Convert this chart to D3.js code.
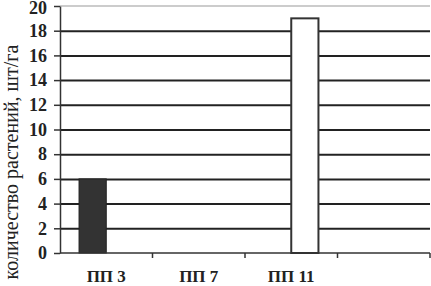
<!DOCTYPE html>
<html>
<head>
<meta charset="utf-8">
<script src="https://cdn.jsdelivr.net/npm/d3@7"></script>
<style>
  body { margin: 0; background: #fff; }
  text { font-family: "Liberation Serif", "Times New Roman", serif; }
  .grid line { stroke: #222; stroke-width: 2; }
  .grid .domain { display: none; }
  .axis .domain, .axis line { stroke: #333; stroke-width: 1.5; }
  .axis text { font-size: 18px; font-weight: bold; fill: #222; }
  .axis text.cat { font-size: 17px; }
</style>
</head>
<body>
<div class="chart"></div>
<script>
var categories = ["ПП 3", "ПП 7", "ПП 11", ""];
var seriesDark = [6, 0, 0, 0];
var seriesLight = [0, 0, 19, 0];
var yTicks = [0, 2, 4, 6, 8, 10, 12, 14, 16, 18, 20];
var yLabel = "количество растений, шт/га";

var margin = { top: 6, right: 1, bottom: 33, left: 60 };
var width = 431 - margin.left - margin.right;
var height = 286 - margin.top - margin.bottom;

var svg = d3
  .select(".chart")
  .append("svg")
  .attr("width", 431)
  .attr("height", 286);

var chart = svg
  .append("g")
  .attr("transform", `translate(${margin.left},${margin.top})`);

var xScale = d3.scaleBand().domain(categories).range([0, width]);
var yScale = d3.scaleLinear().domain([0, 20]).range([height, 0]);
var subScale = d3
  .scaleBand()
  .domain(["dark", "light"])
  .range([0, xScale.bandwidth()])
  .paddingOuter(0.7)
  .paddingInner(0);

// top border of the plot area
chart
  .append("line")
  .attr("x1", 0)
  .attr("x2", width)
  .attr("y1", yScale(20))
  .attr("y2", yScale(20))
  .attr("stroke", "#bbb")
  .attr("stroke-width", 1.5);

// gridlines
chart
  .append("g")
  .attr("class", "grid")
  .call(
    d3.axisLeft(yScale)
      .tickValues(yTicks.filter(d => d > 0 && d < 20))
      .tickSize(-width)
      .tickFormat("")
  );

var rows = categories.map((c, i) => ({
  cat: c,
  dark: seriesDark[i],
  light: seriesLight[i]
}));

chart
  .selectAll(".bar-dark")
  .data(rows.filter(d => d.dark > 0))
  .enter()
  .append("rect")
  .attr("class", "bar-dark")
  .attr("x", d => xScale(d.cat) + subScale("dark"))
  .attr("y", d => yScale(d.dark))
  .attr("width", subScale.bandwidth())
  .attr("height", d => yScale(0) - yScale(d.dark))
  .attr("fill", "#333")
  .attr("stroke", "#222")
  .attr("stroke-width", 1);

chart
  .selectAll(".bar-light")
  .data(rows.filter(d => d.light > 0))
  .enter()
  .append("rect")
  .attr("class", "bar-light")
  .attr("x", d => xScale(d.cat) + subScale("light"))
  .attr("y", d => yScale(d.light))
  .attr("width", subScale.bandwidth())
  .attr("height", d => yScale(0) - yScale(d.light))
  .attr("fill", "#fff")
  .attr("stroke", "#333")
  .attr("stroke-width", 2);

// y axis
var yAxisG = chart
  .append("g")
  .attr("class", "axis y")
  .call(d3.axisLeft(yScale).tickValues(yTicks).tickSize(6).tickPadding(7).tickSizeOuter(0));
// keep the top label inside the picture
yAxisG.selectAll(".tick text").filter(d => d === 20).attr("dy", "0.4em");

// x axis: ticks on band edges, labels on band centres
var edges = categories.map(c => xScale(c)).concat([width]);
var xAxisG = chart
  .append("g")
  .attr("class", "axis x")
  .attr("transform", `translate(0,${height})`);
xAxisG
  .append("line")
  .attr("class", "domain")
  .attr("x1", 0)
  .attr("x2", width);
xAxisG
  .selectAll(".edge")
  .data(edges.slice(1))
  .enter()
  .append("line")
  .attr("class", "edge")
  .attr("x1", d => d)
  .attr("x2", d => d)
  .attr("y1", 0)
  .attr("y2", 5);
xAxisG
  .selectAll(".cat")
  .data(categories)
  .enter()
  .append("text")
  .attr("class", "cat")
  .attr("x", d => xScale(d) + xScale.bandwidth() / 2)
  .attr("y", 29)
  .attr("text-anchor", "middle")
  .text(d => d);

svg
  .append("text")
  .attr("transform", `translate(18,${162}) rotate(-90)`)
  .attr("text-anchor", "middle")
  .attr("font-size", 20)
  .attr("fill", "#222")
  .text(yLabel);
</script>
</body>
</html>
